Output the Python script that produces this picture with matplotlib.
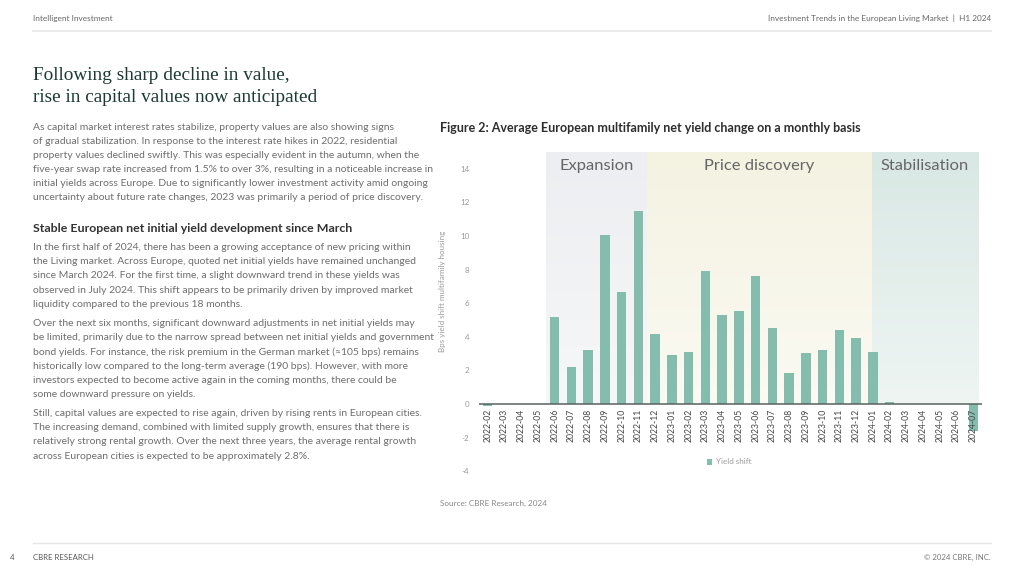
import matplotlib
matplotlib.use('Agg')
import matplotlib.pyplot as plt
import numpy as np
from matplotlib.colors import to_rgb

# ---------------- data ----------------
months = ['2022-02', '2022-03', '2022-04', '2022-05', '2022-06', '2022-07', '2022-08',
          '2022-09', '2022-10', '2022-11', '2022-12', '2023-01', '2023-02', '2023-03',
          '2023-04', '2023-05', '2023-06', '2023-07', '2023-08', '2023-09', '2023-10',
          '2023-11', '2023-12', '2024-01', '2024-02', '2024-03', '2024-04', '2024-05',
          '2024-06', '2024-07']
yield_shift = [-0.12, 0.0, 0.0, 0.0, 5.15, 2.2, 3.2, 10.05, 6.65, 11.5, 4.18, 2.9, 3.07,
               7.9, 5.27, 5.52, 7.6, 4.55, 1.82, 3.01, 3.19, 4.4, 3.9, 3.09, 0.12, 0.0,
               0.0, 0.0, 0.0, -1.6]
phase_names = ['Expansion', 'Price discovery', 'Stabilisation']
phase_first = ['2022-06', '2022-12', '2024-01']
phase_last = ['2022-11', '2024-01', '2024-07']
y_ticks = [-4, -2, 0, 2, 4, 6, 8, 10, 12, 14]

header_left = 'Intelligent Investment'
header_right = 'Investment Trends in the European Living Market  |  H1 2024'
title_lines = ['Following sharp decline in value,', 'rise in capital values now anticipated']
para1 = ['As capital market interest rates stabilize, property values are also showing signs',
         'of gradual stabilization. In response to the interest rate hikes in 2022, residential',
         'property values declined swiftly. This was especially evident in the autumn, when the',
         'five-year swap rate increased from 1.5% to over 3%, resulting in a noticeable increase in',
         'initial yields across Europe. Due to significantly lower investment activity amid ongoing',
         'uncertainty about future rate changes, 2023 was primarily a period of price discovery.']
subheading = 'Stable European net initial yield development since March'
para2 = ['In the first half of 2024, there has been a growing acceptance of new pricing within',
         'the Living market. Across Europe, quoted net initial yields have remained unchanged',
         'since March 2024. For the first time, a slight downward trend in these yields was',
         'observed in July 2024. This shift appears to be primarily driven by improved market',
         'liquidity compared to the previous 18 months.']
para3 = ['Over the next six months, significant downward adjustments in net initial yields may',
         'be limited, primarily due to the narrow spread between net initial yields and government',
         'bond yields. For instance, the risk premium in the German market (≈105 bps) remains',
         'historically low compared to the long-term average (190 bps). However, with more',
         'investors expected to become active again in the coming months, there could be',
         'some downward pressure on yields.']
para4 = ['Still, capital values are expected to rise again, driven by rising rents in European cities.',
         'The increasing demand, combined with limited supply growth, ensures that there is',
         'relatively strong rental growth. Over the next three years, the average rental growth',
         'across European cities is expected to be approximately 2.8%.']
chart_title = 'Figure 2: Average European multifamily net yield change on a monthly basis'
y_label = 'Bps yield shift multifamily housing'
legend_label = 'Yield shift'
source = 'Source: CBRE Research, 2024'
footer_page = '4'
footer_left = 'CBRE RESEARCH'
footer_right = '© 2024 CBRE, INC.'

# ---------------- styling ----------------
W, H = 1024, 576
SANS = ['Lato', 'DejaVu Sans']
SERIF = ['Liberation Serif', 'DejaVu Serif']
BAR = '#84bcad'
phase_top = ['#eceef1', '#f4f2e1', '#d9e8e4']
phase_bot = ['#f6f7f8', '#fbfaf3', '#eef5f3']

fig = plt.figure(figsize=(W / 100, H / 100), dpi=100)
fig.patch.set_facecolor('white')
renderer = fig.canvas.get_renderer()


def fx(x):
    return x / W


def fy(y):
    return 1 - y / H


def fit(text, target_px, **kw):
    t = fig.text(0, 0, text, fontsize=10, **kw)
    w = t.get_window_extent(renderer).width
    t.remove()
    return 10 * target_px / w


# header / footer
hs = fit(header_left, 79, family=SANS)
fig.text(fx(33), fy(18), header_left, fontsize=hs, family=SANS, color='#666666', va='center')
fig.text(fx(991), fy(18), header_right, fontsize=hs, family=SANS, color='#666666',
         va='center', ha='right')
fig.add_artist(plt.Line2D([fx(33), fx(991)], [fy(31), fy(31)], color='#e6e6e6', lw=1.2))
fig.add_artist(plt.Line2D([fx(33), fx(991)], [fy(543), fy(543)], color='#e6e6e6', lw=1.0))
fs_f = fit(footer_left, 60, family=SANS)
fig.text(fx(10), fy(557), footer_page, fontsize=fs_f, family=SANS, color='#555555', va='center')
fig.text(fx(33), fy(557), footer_left, fontsize=fs_f, family=SANS, color='#555555', va='center')
fig.text(fx(991), fy(557), footer_right, fontsize=fs_f, family=SANS, color='#777777',
         va='center', ha='right')

# title
ts = fit(title_lines[0], 258, family=SERIF)
fig.text(fx(33), fy(75), title_lines[0], fontsize=ts, family=SERIF, color='#1b3a33', va='center')
fig.text(fx(33), fy(97.5), title_lines[1], fontsize=ts, family=SERIF, color='#1b3a33', va='center')

# body
bs = fit(para1[0], 360, family=SANS)
BODY = '#6e6e6e'


def para(lines, y0, step=14.2):
    for i, ln in enumerate(lines):
        fig.text(fx(33), fy(y0 + i * step), ln, fontsize=bs, family=SANS, color=BODY, va='center')


para(para1, 127)
ss = fit(subheading, 322, family=SANS, weight='bold')
fig.text(fx(33), fy(229), subheading, fontsize=ss, family=SANS, weight='bold', color='#333333',
         va='center')
para(para2, 247.5)
para(para3, 323.5)
para(para4, 413, 14.5)

# chart title
cs = fit(chart_title, 422, family=SANS, weight='bold')
fig.text(fx(440), fy(128), chart_title, fontsize=cs, family=SANS, weight='bold', color='#2e2e2e',
         va='center')

# ---------------- chart ----------------
left, right, top, bottom = 479.3, 981.7, 152.0, 471.2
ax = fig.add_axes([fx(left), fy(bottom), fx(right - left), (bottom - top) / H])
ax.set_facecolor('none')
x = np.arange(len(months))

bar_w = 0.56
phase_fs = fit('Expansion', 74, family=SANS)
for k, name in enumerate(phase_names):
    i0 = months.index(phase_first[k])
    i1 = months.index(phase_last[k])
    x0 = i0 - 0.5
    if k > 0 and phase_last[k - 1] == phase_first[k]:
        x0 = i0 - 0.05
    x1 = i1 + 0.5
    if k + 1 < len(phase_names) and phase_first[k + 1] == phase_last[k]:
        x1 = i1 - 0.05
    if k == len(phase_names) - 1:
        x1 = i1 + bar_w / 2
    c0 = np.array(to_rgb(phase_top[k]))
    c1 = np.array(to_rgb(phase_bot[k]))
    grad = np.linspace(0, 1, 64)[:, None, None] * (c1 - c0) + c0
    ax.imshow(grad, extent=[x0, x1, 0, 15], aspect='auto', origin='upper', zorder=0,
              interpolation='bilinear')
    ax.text((x0 + x1) / 2, 14.15, name, ha='center', va='center', family=SANS,
            fontsize=phase_fs, color='#666666', zorder=3)

ax.set_xlim(-0.5, len(months) - 0.5)
ax.set_ylim(-4, 15)
ax.bar(x, yield_shift, width=bar_w, color=BAR, zorder=2, label=legend_label)
ax.axhline(0, color='#5a6260', lw=1.1, zorder=4)

for s in ax.spines.values():
    s.set_visible(False)
ax.set_xticks(x)
ax.set_xticklabels([])
ax.tick_params(axis='x', length=0)
for i, m in enumerate(months):
    ax.text(i, -0.3, m, rotation=90, ha='center', va='top', fontsize=6.2, family=SANS,
            color='#444444', zorder=5)
ax.set_yticks(y_ticks)
ax.set_yticklabels([str(v) for v in y_ticks], fontsize=5.8, family=SANS, color='#9a9a9a')
ax.tick_params(axis='y', length=0, pad=7)

fig.text(fx(443), fy(291), y_label, rotation=90, fontsize=5.8, family=SANS, color='#9a9a9a',
         ha='center', va='center')

# legend
leg = ax.legend(loc='center', bbox_to_anchor=(fx(729), fy(462)), bbox_transform=fig.transFigure,
                frameon=False, handlelength=0.7, handleheight=0.7,
                handletextpad=0.4, prop={'family': SANS, 'size': 5.8})
for t in leg.get_texts():
    t.set_color('#9a9a9a')

fig.text(fx(440), fy(503), source, fontsize=fit(source, 107, family=SANS), family=SANS,
         color='#888888', va='center')

fig.savefig('out.png', dpi=100, facecolor='white')
